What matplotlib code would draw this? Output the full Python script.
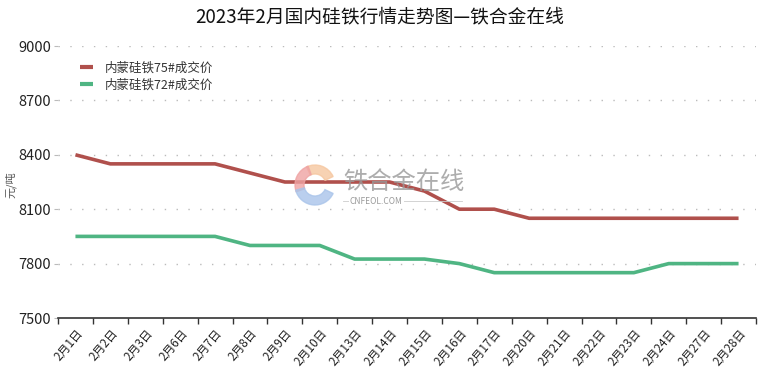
import matplotlib
matplotlib.use("Agg")
import matplotlib.pyplot as plt
from matplotlib.patches import Wedge
import numpy as np

plt.rcParams['font.family'] = ['Noto Sans CJK SC', 'DejaVu Sans']

categories = ["2月1日", "2月2日", "2月3日", "2月6日", "2月7日", "2月8日", "2月9日", "2月10日",
              "2月13日", "2月14日", "2月15日", "2月16日", "2月17日", "2月20日", "2月21日",
              "2月22日", "2月23日", "2月24日", "2月27日", "2月28日"]
series_75 = [8400, 8350, 8350, 8350, 8350, 8300, 8250, 8250, 8250, 8250, 8200, 8100, 8100,
             8050, 8050, 8050, 8050, 8050, 8050, 8050]
series_72 = [7950, 7950, 7950, 7950, 7950, 7900, 7900, 7900, 7825, 7825, 7825, 7800, 7750,
             7750, 7750, 7750, 7750, 7800, 7800, 7800]
name_75 = "内蒙硅铁75#成交价"
name_72 = "内蒙硅铁72#成交价"
yticks = [7500, 7800, 8100, 8400, 8700, 9000]
title = "2023年2月国内硅铁行情走势图—铁合金在线"
ylabel = "元/吨"

fig = plt.figure(figsize=(7.6, 3.73), dpi=100)
ax = fig.add_axes([58/760, 1-318/373, (756-58)/760, (318-46)/373])

x = np.arange(len(categories))
ax.plot(x, series_75, color="#B0504C", lw=2.6, label=name_75, zorder=3, solid_capstyle='butt')
ax.plot(x, series_72, color="#4FB583", lw=2.6, label=name_72, zorder=3, solid_capstyle='butt')

ax.set_xlim(-0.5, len(categories) - 0.5)
ax.set_ylim(7500, 9000)
ax.set_yticks(yticks)
ax.set_yticklabels([str(v) for v in yticks], fontsize=10.5, color="#222222")
ax.tick_params(axis='y', length=3, color="#bbbbbb", pad=2)
for v in yticks[1:]:
    ax.axhline(v, color="#bbbbbb", lw=1.0, ls=(0, (1, 7.5)), zorder=1)

# labels at centers, ticks at boundaries
ax.set_xticks(x)
ax.set_xticklabels(categories, rotation=50, ha='right', rotation_mode='anchor', fontsize=8.5, color="#222222")
ax.tick_params(axis='x', which='major', length=0, pad=6)
ax.set_xticks(np.arange(-0.5, len(categories)), minor=True)
ax.tick_params(axis='x', which='minor', length=4, width=1, color="#333333")

for s in ['top', 'right', 'left']:
    ax.spines[s].set_visible(False)
ax.spines['bottom'].set_color("#333333")
ax.spines['bottom'].set_linewidth(1.2)

fig.text(11/760, 1-185/373, ylabel, rotation=90, ha='center', va='center', fontsize=8, color="#555555")
fig.text(0.5, 1-17/373, title, ha='center', va='center', fontsize=13.5, color="#111111")

leg = ax.legend(loc='upper left', bbox_to_anchor=(0.015, 0.985), frameon=False, fontsize=9,
                handlelength=1.1, handletextpad=0.9, labelspacing=0.35, labelcolor="#333333")
for l in leg.get_lines():
    l.set_linewidth(3)

# watermark
cx, cy = 315, 373-185
r = 20
wax = fig.add_axes([0, 0, 1, 1], facecolor='none')
wax.set_xlim(0, 760)
wax.set_ylim(0, 373)
wax.axis('off')
wax.add_patch(Wedge((cx, cy), r, 25, 115, width=9, color="#F6C7A0", alpha=0.8))
wax.add_patch(Wedge((cx, cy), r, 110, 200, width=9, color="#EFA3A3", alpha=0.8))
wax.add_patch(Wedge((cx, cy), r, 195, 335, width=9, color="#A9C4EA", alpha=0.8))
wax.text(343, 373-182, "铁合金在线", fontsize=17.5, color="#999999", alpha=0.8, va='center', ha='left')
wax.plot([343, 462], [373-201, 373-201], color="#cccccc", lw=0.6)
wax.text(350, 373-201, "CNFEOL.COM", fontsize=6, color="#999999", va='center', ha='left',
         bbox=dict(facecolor='white', edgecolor='none', pad=0.5))

fig.savefig("out.png", dpi=100)
